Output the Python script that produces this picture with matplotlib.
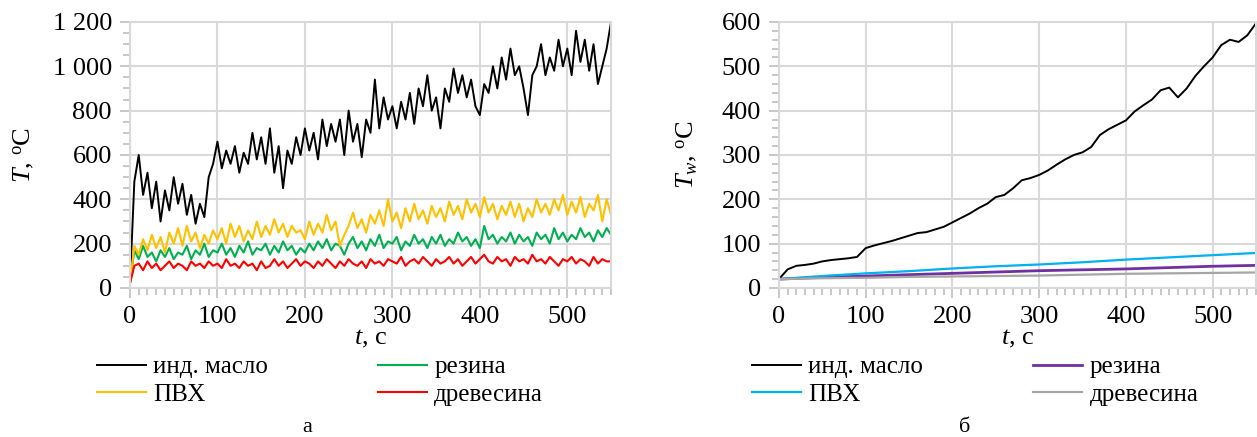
import matplotlib
matplotlib.use('Agg')
import matplotlib.pyplot as plt
import numpy as np
from matplotlib.ticker import MultipleLocator, FuncFormatter

SERIF = 'Liberation Serif'
plt.rcParams['font.family'] = 'serif'
plt.rcParams['font.serif'] = [SERIF, 'DejaVu Serif']
plt.rcParams['mathtext.fontset'] = 'custom'
plt.rcParams['mathtext.rm'] = SERIF
plt.rcParams['mathtext.it'] = SERIF + ':italic'
plt.rcParams['font.size'] = 19

labels = ['инд. масло', 'резина', 'ПВХ', 'древесина']

# a) flame temperature, sampled every 5 s
t_a = np.arange(0, 551, 5)
T_oil = [20, 480, 600, 420, 520, 360, 480, 300, 440, 350, 500, 380, 470, 330, 420, 290,
         380, 320, 500, 560, 660, 540, 620, 560, 640, 520, 610, 560, 700, 580, 680, 560,
         720, 520, 640, 450, 620, 560, 680, 600, 720, 620, 700, 580, 760, 640, 740, 660,
         760, 600, 800, 660, 740, 590, 760, 700, 940, 720, 860, 760, 820, 720, 840, 760,
         880, 740, 900, 820, 960, 800, 860, 720, 900, 840, 990, 880, 960, 860, 940, 820,
         780, 920, 880, 1000, 900, 1040, 940, 1080, 960, 1000, 900, 780, 960, 1000, 1100, 960,
         1040, 980, 1120, 1000, 1080, 960, 1160, 1020, 1120, 980, 1100, 920, 1000, 1080, 1200]
T_pvc = [20, 190, 150, 220, 170, 240, 180, 230, 160, 250, 200, 270, 190, 280, 210, 250,
         180, 240, 200, 260, 220, 270, 200, 290, 230, 280, 210, 260, 220, 300, 230, 280,
         240, 310, 250, 290, 230, 280, 250, 260, 220, 300, 240, 290, 250, 330, 260, 300,
         190, 240, 280, 340, 270, 310, 250, 330, 290, 350, 280, 400, 300, 340, 270, 360,
         300, 380, 310, 350, 290, 370, 320, 360, 300, 390, 330, 370, 310, 400, 340, 380,
         320, 410, 340, 380, 310, 370, 330, 390, 320, 380, 300, 360, 320, 400, 340, 380,
         330, 400, 350, 420, 330, 390, 340, 410, 320, 380, 350, 420, 300, 400, 330]
T_rub = [20, 170, 130, 190, 140, 160, 120, 170, 140, 180, 130, 160, 150, 190, 130, 170,
         150, 200, 140, 170, 160, 200, 150, 180, 140, 190, 160, 210, 150, 180, 170, 200,
         150, 190, 160, 210, 170, 190, 150, 180, 160, 200, 170, 210, 180, 220, 170, 200,
         190, 150, 200, 230, 180, 210, 170, 220, 190, 240, 180, 210, 200, 230, 170, 210,
         190, 240, 200, 220, 180, 230, 200, 240, 190, 220, 200, 250, 210, 230, 190, 220,
         180, 280, 220, 240, 200, 230, 210, 250, 200, 240, 210, 230, 190, 250, 220, 240,
         200, 270, 220, 250, 210, 240, 220, 270, 230, 250, 210, 260, 230, 270, 240]
T_wood = [20, 100, 110, 80, 120, 90, 110, 80, 100, 120, 90, 110, 100, 80, 120, 100,
          110, 90, 120, 100, 110, 90, 130, 100, 110, 90, 120, 100, 110, 80, 120, 90,
          100, 130, 100, 120, 90, 110, 130, 100, 120, 110, 90, 120, 100, 130, 110, 90,
          120, 100, 130, 110, 100, 120, 90, 130, 110, 120, 100, 130, 120, 110, 140, 100,
          120, 130, 110, 140, 120, 100, 130, 110, 120, 140, 110, 130, 100, 120, 140, 110,
          130, 150, 120, 110, 140, 120, 130, 100, 140, 120, 130, 110, 150, 120, 130, 110,
          140, 120, 100, 130, 120, 140, 110, 130, 120, 100, 140, 110, 130, 120, 120]

# б) wall temperature
t_b = np.arange(0, 551, 10)
Tw_oil = [20, 42, 50, 52, 55, 60, 63, 65, 67, 70, 90, 96, 101, 106, 112, 118,
          124, 126, 132, 138, 148, 158, 168, 180, 190, 205, 210, 225, 243, 248, 255, 265,
          278, 290, 300, 306, 318, 345, 358, 368, 378, 398, 412, 425, 446, 452, 430, 450,
          478, 500, 520, 548, 560, 555, 570, 597]
t_b2 = np.arange(0, 551, 50)
Tw_pvc = [20, 27, 33, 38, 44, 49, 53, 58, 64, 69, 74, 79]
Tw_rub = [20, 24, 27, 30, 33, 36, 39, 41, 43, 46, 49, 51]
Tw_wood = [20, 22, 23, 25, 26, 27, 28, 30, 32, 33, 34, 35]

fig = plt.figure(figsize=(12.57, 4.37), dpi=100)
ax1 = fig.add_axes([0.1034, 0.341, 0.3827, 0.6087])
ax2 = fig.add_axes([0.6197, 0.341, 0.3795, 0.6087])

l1 = ax1.plot(t_a, T_oil, color='black', lw=1.4)[0]
l2 = ax1.plot(t_a, T_rub, color='#00B050', lw=1.5)[0]
l3 = ax1.plot(t_a, T_pvc, color='#FFC000', lw=1.5)[0]
l4 = ax1.plot(t_a, T_wood, color='#FF0000', lw=1.5)[0]

m1 = ax2.plot(t_b, Tw_oil, color='black', lw=1.4)[0]
m2 = ax2.plot(t_b2, Tw_rub, color='#7030A0', lw=2)[0]
m3 = ax2.plot(t_b2, Tw_pvc, color='#00B0F0', lw=1.6)[0]
m4 = ax2.plot(t_b2, Tw_wood, color='#A6A6A6', lw=1.6)[0]

def space_thousands(v, pos):
    return '{:,.0f}'.format(v).replace(',', ' ')

for ax, ymax, ystep, yminor in [(ax1, 1200, 200, 50), (ax2, 600, 100, 20)]:
    ax.set_xlim(0, 550)
    ax.set_ylim(0, ymax)
    ax.xaxis.set_major_locator(MultipleLocator(100))
    ax.xaxis.set_minor_locator(MultipleLocator(10))
    ax.yaxis.set_major_locator(MultipleLocator(ystep))
    ax.yaxis.set_minor_locator(MultipleLocator(yminor))
    ax.yaxis.set_major_formatter(FuncFormatter(space_thousands))
    ax.grid(True, which='major', color='#D9D9D9', lw=1.5)
    ax.set_axisbelow(True)
    for s in ax.spines.values():
        s.set_color('#D9D9D9')
        s.set_linewidth(1.5)
    ax.tick_params(which='both', direction='out', color='#BFBFBF', width=1.2,
                   labelfontfamily=SERIF, labelsize=19)
    ax.tick_params(which='major', length=7, pad=6)
    ax.tick_params(which='minor', length=5)
    ax.set_xlabel('$t$, с', labelpad=0, family=SERIF)

ax1.set_ylabel('$T$, $^{\\rm o}$C', labelpad=12, family=SERIF)
ax2.set_ylabel('$T_w$, $^{\\rm o}$C', labelpad=16, family=SERIF)

leg_kw = dict(loc='upper left', ncol=2, frameon=False, handlelength=1.95,
              handletextpad=0.3, columnspacing=4.4, labelspacing=0.2,
              borderpad=0, borderaxespad=0, prop={'family': SERIF, 'size': 18})
fig.legend([l1, l3, l2, l4], [labels[0], labels[2], labels[1], labels[3]],
           bbox_to_anchor=(97 / 1257, 1 - 356 / 437), **leg_kw)
fig.legend([m1, m3, m2, m4], [labels[0], labels[2], labels[1], labels[3]],
           bbox_to_anchor=(752 / 1257, 1 - 356 / 437), **leg_kw)

fig.text(307 / 1257, 1 - 428 / 437, 'а', ha='center', va='center', fontsize=16, family=SERIF)
fig.text(965 / 1257, 1 - 428 / 437, 'б', ha='center', va='center', fontsize=16, family=SERIF)

fig.savefig('out.png', dpi=100)
